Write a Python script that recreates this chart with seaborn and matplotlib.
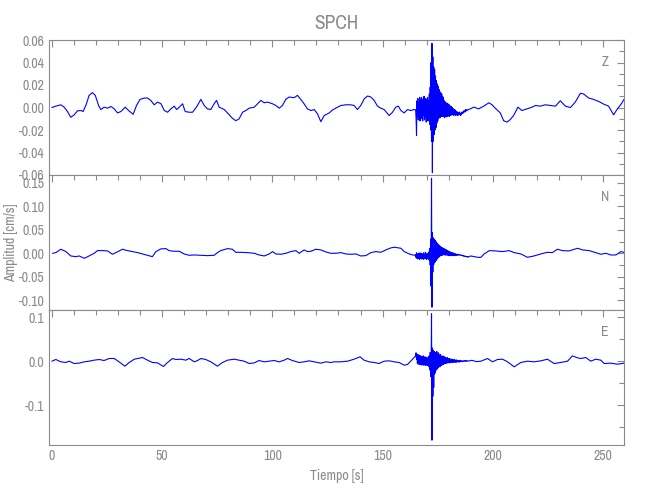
import numpy as np
import pandas as pd
import matplotlib
matplotlib.use("Agg")
import matplotlib.pyplot as plt
from matplotlib import font_manager
from matplotlib.ticker import MultipleLocator
import seaborn as sns

# ---- background (quiet) part of each trace ----
z_t = [0.0, 1.8, 4.1, 5.6, 7.1, 8.6, 10.1, 11.6, 13.2, 14.2, 15.7, 16.9, 18.4, 19.7, 21.2,
       22.2, 23.7, 25.3, 26.8, 28.3, 29.8, 31.3, 33.3, 34.8, 36.9, 38.4, 40.0, 41.9, 43.4, 44.9,
       46.4, 48.0, 49.5, 51.0, 52.5, 54.0, 55.5, 56.6, 57.8, 59.3, 60.5, 62.3, 63.8, 65.6, 67.6,
       69.1, 70.6, 72.1, 73.6, 74.7, 75.9, 78.2, 80.1, 81.9, 83.4, 84.9, 86.5, 88.0, 89.5, 91.8,
       93.3, 94.8, 96.3, 97.8, 100.1, 101.6, 103.1, 104.6, 106.1, 107.6, 109.9, 111.4, 112.9, 114.4, 115.9,
       117.5, 119.0, 120.5, 122.0, 123.5, 125.8, 127.6, 129.6, 131.1, 133.3, 135.6, 137.1, 138.6, 140.1, 141.7,
       143.2, 144.7, 146.2, 147.7, 149.2, 150.7, 153.0, 154.5, 156.0, 157.2, 158.3, 159.8, 161.3, 162.8, 164.3,
       189.1, 191.4, 193.6, 195.9, 198.2, 199.7, 201.1, 203.4, 204.9, 206.4, 207.9, 209.4, 211.4, 213.2, 215.5,
       217.8, 219.3, 221.5, 223.8, 226.1, 228.4, 230.6, 232.9, 235.2, 237.4, 239.7, 241.2, 243.5, 245.7, 248.0,
       250.3, 252.5, 254.8, 256.3, 258.3, 259.5]
z_amp = [0.0, 0.0012, 0.0024, 0.0003, -0.0036, -0.0087, -0.0066, -0.003, -0.0027, -0.0036, 0.0033, 0.0108, 0.0132, 0.0108, 0.0018,
         -0.0018, 0.0003, -0.0006, 0.0009, -0.0012, -0.0048, -0.0036, 0.0003, -0.0027, -0.006, 0.0018, 0.0072, 0.0084, 0.0084, 0.0063,
         0.0024, 0.0048, 0.0033, -0.0027, -0.0042, -0.0012, 0.0012, -0.0018, 0.0003, 0.0033, -0.0036, -0.0042, -0.0042, 0.0003, 0.0072,
         0.0018, -0.0012, -0.0018, 0.0033, 0.0063, 0.0003, -0.0018, -0.0057, -0.0096, -0.0117, -0.0102, -0.0042, -0.0027, -0.0006, 0.0003,
         0.0033, 0.0063, 0.0042, 0.0048, 0.0033, 0.0018, -0.0006, 0.0018, 0.0072, 0.0093, 0.0087, 0.0108, 0.0072, 0.0033, -0.0012,
         -0.0027, -0.0018, -0.0057, -0.0126, -0.0072, -0.0048, -0.0018, 0.0003, 0.0018, 0.0024, 0.0024, 0.0018, -0.0018, 0.0018, 0.0078,
         0.0102, 0.0093, 0.0063, 0.0012, -0.0006, -0.0018, -0.0072, -0.0042, 0.0003, 0.0012, -0.0027, -0.0048, -0.0018, -0.0027, -0.0018,
         -0.0018, 0.0003, -0.0012, 0.0012, 0.0042, 0.0024, -0.0006, -0.0048, -0.0117, -0.013, -0.0108, -0.0072, 0.0003, -0.0027, -0.0012,
         0.0003, 0.0018, 0.0012, 0.0024, 0.0018, 0.0012, 0.006, 0.0012, 0.0, 0.0048, 0.0126, 0.012, 0.0084, 0.0072, 0.0054,
         0.003, 0.0012, -0.0065, -0.0018, 0.0033, 0.0072]

n_t = [0.3, 1.8, 4.1, 6.4, 8.6, 10.9, 12.4, 14.7, 16.9, 19.2, 20.7, 23.0, 25.3, 27.5, 29.0,
       32.1, 34.3, 36.6, 38.9, 41.1, 43.4, 45.6, 47.2, 49.4, 51.7, 53.2, 55.5, 57.8, 60.0, 62.3,
       64.6, 67.6, 70.6, 73.6, 75.1, 76.6, 79.7, 81.9, 83.4, 85.7, 88.7, 91.8, 94.0, 96.3, 98.6,
       100.1, 101.6, 103.9, 106.1, 108.4, 110.7, 112.2, 114.4, 116.0, 117.5, 119.7, 122.0, 124.3, 126.5, 128.8,
       131.1, 133.3, 135.6, 137.9, 140.1, 142.4, 144.7, 147.0, 149.2, 151.5, 153.7, 155.3, 158.3, 159.8, 162.1, 164.3,
       190.0, 193.1, 194.6, 196.1, 198.4, 201.4, 204.4, 207.4, 209.7, 212.7, 215.7, 218.7, 221.8, 224.8, 227.0,
       229.3, 231.6, 234.6, 238.4, 240.7, 243.7, 246.7, 249.0, 251.3, 253.5, 255.8, 258.1, 259.5]
n_amp = [0.0, 0.0014, 0.0086, 0.0036, -0.0057, -0.0072, -0.0057, -0.0107, -0.0057, 0.0, 0.0057, 0.0057, 0.005, -0.0021, 0.0014,
         0.0086, 0.0057, 0.0036, 0.0014, -0.0014, -0.0043, -0.0072, 0.0036, 0.0093, 0.01, 0.0057, 0.0043, 0.0043, -0.0014, -0.0043,
         -0.0036, -0.0043, -0.005, -0.0043, 0.0014, 0.0057, 0.01, 0.0086, 0.0021, 0.0021, 0.0014, 0.0, -0.0036, -0.0057, -0.0014,
         0.0036, -0.0014, -0.0021, 0.0, 0.0036, 0.0057, 0.0, 0.0072, 0.0036, 0.0043, 0.0086, 0.0072, 0.0029, 0.0, 0.0,
         0.0014, -0.0014, -0.0021, -0.0014, -0.0057, -0.005, 0.0014, 0.0036, 0.0021, 0.0072, 0.0114, 0.0129, 0.0107, 0.0036, -0.0014, -0.0043,
         -0.0057, -0.0086, -0.0086, -0.0014, 0.0057, 0.005, 0.0036, 0.0057, 0.0014, -0.0014, -0.0086, -0.0057, -0.0014, 0.0021, 0.0014,
         0.0086, 0.0057, 0.005, 0.0107, 0.0072, 0.0057, 0.0014, -0.0021, 0.0, -0.0036, -0.0036, 0.0036, 0.002]

e_t = [0.0, 1.8, 4.1, 6.4, 7.9, 10.1, 12.4, 14.7, 16.9, 19.2, 21.5, 23.7, 26.0, 28.3, 30.5,
       33.1, 35.1, 37.4, 38.9, 41.1, 43.4, 45.6, 47.9, 50.6, 52.5, 54.7, 56.2, 58.5, 60.8, 62.3,
       64.6, 66.1, 67.6, 69.8, 72.1, 75.1, 77.4, 79.7, 82.7, 85.0, 87.2, 89.5, 91.8, 94.0, 96.3,
       98.6, 100.8, 103.1, 105.4, 106.9, 109.1, 112.2, 114.4, 116.7, 119.0, 122.0, 124.3, 126.5, 128.0, 131.1,
       134.1, 137.1, 139.8, 141.6, 143.9, 146.2, 148.4, 150.7, 153.0, 155.3, 157.5, 159.8, 161.3, 163.6,
       190.5, 192.5, 194.6, 197.6, 199.9, 202.1, 204.4, 206.7, 209.7, 212.7, 215.7, 218.7, 221.8, 224.8, 227.8,
       230.8, 233.9, 236.1, 238.4, 239.9, 242.2, 244.4, 246.7, 249.0, 250.5, 253.5, 256.5, 258.8, 259.5]
e_amp = [0.0, 0.0038, -0.0015, -0.003, 0.0, -0.0053, -0.0045, -0.0015, 0.0, 0.0023, 0.0038, 0.0015, 0.0061, 0.0061, -0.0015,
         -0.0114, -0.003, 0.0045, 0.0061, 0.0083, 0.0023, -0.003, -0.0038, -0.0121, -0.003, 0.0061, 0.0038, 0.0045, 0.0023, 0.0061,
         -0.0015, 0.0015, 0.0061, 0.0038, -0.0015, -0.0114, -0.003, 0.0023, 0.0045, 0.0023, 0.0, -0.0053, -0.0038, 0.0015, -0.0015,
         0.0, 0.0015, -0.0015, 0.0023, 0.0061, 0.0015, -0.003, -0.0015, 0.0008, -0.0015, -0.0045, -0.0015, -0.003, -0.0015, -0.0015,
         0.0, 0.0045, 0.0099, 0.0023, -0.0015, -0.003, -0.0053, 0.0, 0.0008, -0.0015, -0.003, -0.0091, -0.0076, 0.0045,
         0.002, -0.001, 0.0, 0.0061, -0.0015, 0.0038, 0.0045, -0.0015, -0.0129, -0.003, 0.0, -0.0015, 0.0008, 0.0045, -0.0053,
         -0.003, 0.0, 0.0121, 0.0076, 0.0061, 0.0083, 0.0, 0.0045, 0.0023, -0.0053, -0.0045, -0.0068, -0.0053, -0.004]

# ---- earthquake window, one value every 0.2 s from 165.0 to 188.8 s ----
event_t = np.round(np.arange(165.0, 189.0, 0.2), 1)
z_event = [-0.002, -0.010, -0.025, 0.006, -0.008,
           0.008, -0.011, 0.005, -0.009, 0.009,
           -0.012, 0.007, -0.006, 0.009, -0.010,
           0.006, -0.012, 0.008, -0.007, 0.010,
           -0.011, 0.005, -0.009, 0.008, -0.013,
           0.007, -0.008, 0.009, -0.012, 0.006,
           -0.010, 0.012, -0.015, 0.018, -0.020,
           0.040, -0.030, 0.057, -0.058, 0.045,
           -0.030, 0.036, -0.024, 0.034, -0.020,
           0.028, -0.018, 0.024, -0.014, 0.021,
           -0.012, 0.019, -0.010, 0.016, -0.009,
           0.014, -0.009, 0.013, -0.008, 0.012,
           -0.008, 0.010, -0.008, 0.009, -0.008,
           0.006, -0.009, 0.005, -0.008, 0.004,
           -0.008, 0.004, -0.008, 0.003, -0.007,
           0.003, -0.008, 0.002, -0.007, 0.001,
           -0.007, 0.001, -0.006, 0.000, -0.006,
           -0.001, -0.007, -0.002, -0.006, -0.002,
           -0.007, -0.003, -0.006, -0.004, -0.007,
           -0.004, -0.007, -0.005, -0.006, -0.004,
           -0.006, -0.005, -0.007, -0.005, -0.006,
           -0.004, -0.005, -0.004, -0.005, -0.003,
           -0.004, -0.003, -0.004, -0.002, -0.003,
           -0.002, -0.003, -0.002, -0.002, -0.002]
n_event = [-0.003, -0.009, 0.001, -0.011, -0.002,
           -0.012, 0.000, -0.010, -0.003, -0.013,
           0.001, -0.011, -0.002, -0.012, 0.000,
           -0.010, -0.004, -0.013, 0.001, -0.009,
           -0.003, -0.012, 0.002, -0.010, -0.004,
           -0.013, 0.000, -0.011, -0.002, -0.012,
           0.003, -0.015, 0.010, -0.025, 0.030,
           -0.070, 0.160, -0.115, 0.044, -0.040,
           0.033, -0.024, 0.030, -0.020, 0.028,
           -0.018, 0.025, -0.015, 0.022, -0.012,
           0.020, -0.010, 0.018, -0.008, 0.016,
           -0.006, 0.015, -0.005, 0.013, -0.004,
           0.012, -0.004, 0.011, -0.003, 0.010,
           -0.003, 0.009, -0.004, 0.008, -0.003,
           0.007, -0.004, 0.006, -0.004, 0.005,
           -0.005, 0.004, -0.005, 0.003, -0.005,
           0.002, -0.005, 0.001, -0.005, 0.001,
           -0.005, 0.000, -0.005, -0.001, -0.004,
           -0.001, -0.005, -0.002, -0.004, -0.002,
           -0.004, -0.002, -0.004, -0.003, -0.003,
           -0.004, -0.003, -0.004, -0.004, -0.005,
           -0.004, -0.005, -0.005, -0.006, -0.005,
           -0.006, -0.006, -0.007, -0.006, -0.007,
           -0.007, -0.007, -0.008, -0.007, -0.008]
e_event = [0.012, 0.019, 0.004, 0.016, -0.005,
           0.015, -0.007, 0.014, -0.004, 0.013,
           -0.008, 0.012, -0.006, 0.011, -0.009,
           0.010, -0.007, 0.012, -0.009, 0.008,
           -0.008, 0.010, -0.010, 0.009, -0.007,
           0.008, -0.010, 0.007, -0.009, 0.010,
           -0.012, 0.012, -0.020, 0.020, -0.035,
           -0.030, 0.108, -0.180, 0.030, -0.080,
           0.025, -0.060, 0.022, -0.030, 0.020,
           -0.025, 0.018, -0.020, 0.022, -0.018,
           0.016, -0.015, 0.019, -0.012, 0.014,
           -0.013, 0.015, -0.010, 0.012, -0.009,
           0.011, -0.008, 0.012, -0.007, 0.009,
           -0.006, 0.010, -0.005, 0.008, -0.005,
           0.007, -0.004, 0.008, -0.004, 0.006,
           -0.003, 0.006, -0.004, 0.005, -0.003,
           0.004, -0.003, 0.005, -0.002, 0.003,
           -0.003, 0.003, -0.002, 0.004, -0.002,
           0.002, -0.003, 0.003, -0.002, 0.002,
           -0.001, 0.002, -0.002, 0.001, -0.002,
           0.001, -0.001, 0.002, -0.001, 0.000,
           -0.001, 0.001, -0.001, 0.000, 0.001,
           0.000, 0.001, 0.000, 0.001, 0.000,
           0.001, 0.000, 0.001, 0.001, 0.000]

channels = ["Z", "N", "E"]
ylims = [(-0.06, 0.06), (-0.121, 0.167), (-0.191, 0.1166)]
ymajor = [0.02, 0.05, 0.1]
yminor = [0.01, 0.025, 0.05]

grey = "#8a8a8a"
blue = "#0000ff"

sns.set_style("white")

# narrow font if one is around, otherwise Liberation Sans
names = sorted({f.name for f in font_manager.fontManager.ttflist})
narrow = [n for n in names if "Narrow" in n or "Condensed" in n]
base = narrow[0] if narrow else "Liberation Sans"
plt.rcParams["font.family"] = [base, "DejaVu Sans"]
plt.rcParams["text.color"] = grey
plt.rcParams["axes.labelcolor"] = grey
lab_size = 10 if narrow else 9

traces = {
    "Z": (z_t, z_amp, z_event),
    "N": (n_t, n_amp, n_event),
    "E": (e_t, e_amp, e_event),
}

fig, axes = plt.subplots(3, 1, sharex=True, figsize=(6.5, 5), dpi=100,
                         gridspec_kw={"hspace": 0})
fig.subplots_adjust(left=0.075, right=0.96, top=0.92, bottom=0.11)

for i, (ax, ch) in enumerate(zip(axes, channels)):
    t_bg, a_bg, a_ev = traces[ch]
    df = pd.DataFrame({"t": list(t_bg) + list(event_t), "amp": list(a_bg) + list(a_ev)})
    df = df.sort_values("t")
    sns.lineplot(data=df, x="t", y="amp", ax=ax, color=blue, linewidth=0.8,
                 estimator=None, sort=False)
    ax.set_xlabel("")
    ax.set_ylabel("")
    ax.set_xlim(-1.4, 259.5)
    ax.set_ylim(*ylims[i])
    ax.yaxis.set_major_locator(MultipleLocator(ymajor[i]))
    ax.yaxis.set_minor_locator(MultipleLocator(yminor[i]))
    ax.xaxis.set_major_locator(MultipleLocator(50))
    ax.xaxis.set_minor_locator(MultipleLocator(10))
    ax.tick_params(which="both", direction="in", top=True, right=True,
                   colors=grey, labelsize=lab_size, labelcolor=grey, pad=3)
    ax.tick_params(which="major", length=5, width=0.8)
    ax.tick_params(which="minor", length=3.5, width=0.8)
    for s in ax.spines.values():
        s.set_color(grey)
        s.set_linewidth(0.8)
    ax.text(0.967, 0.84, ch, transform=ax.transAxes, ha="center", va="center",
            fontsize=lab_size, color=grey)

axes[0].yaxis.set_major_formatter(plt.FormatStrFormatter("%.2f"))
axes[1].yaxis.set_major_formatter(plt.FormatStrFormatter("%.2f"))
axes[2].yaxis.set_major_formatter(plt.FormatStrFormatter("%.1f"))

axes[0].set_title("SPCH", fontsize=14, color=grey, pad=8)
axes[1].set_ylabel("Amplitud [cm/s]", fontsize=lab_size)
axes[1].yaxis.set_label_coords(-0.054, 0.5)
axes[2].set_xlabel("Tiempo [s]", fontsize=lab_size, labelpad=4)

fig.savefig("out.png", dpi=100)
